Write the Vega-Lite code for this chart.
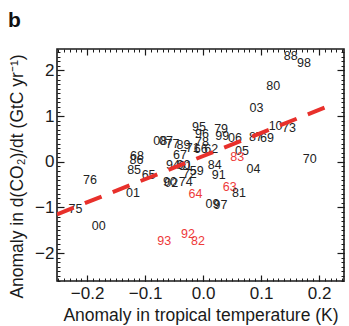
{
  "$schema": "https://vega.github.io/schema/vega-lite/v6.json",
  "autosize": "none",
  "width": 287,
  "height": 232,
  "padding": {"left": 57, "top": 49, "right": 5, "bottom": 45},
  "config": {"font": "Liberation Sans", "view": {"stroke": "#1a1a1a", "strokeWidth": 1.6}, "axis": {"grid": false, "domain": false, "tickColor": "#1a1a1a", "labelColor": "#1a1a1a", "titleColor": "#1a1a1a"}},
  "title": {"text": "b", "anchor": "start", "frame": "group", "dx": -49, "offset": 0, "fontSize": 21, "fontWeight": "bold", "font": "Liberation Sans", "baseline": "alphabetic", "color": "#111"},
  "datasets": {
    "pts": [
      {"yr": "88", "x": 0.151, "y": 2.31, "g": "k"},
      {"yr": "98", "x": 0.174, "y": 2.17, "g": "k"},
      {"yr": "80", "x": 0.121, "y": 1.66, "g": "k"},
      {"yr": "03", "x": 0.092, "y": 1.17, "g": "k"},
      {"yr": "10", "x": 0.125, "y": 0.78, "g": "k"},
      {"yr": "73", "x": 0.148, "y": 0.74, "g": "k"},
      {"yr": "87", "x": 0.091, "y": 0.54, "g": "k"},
      {"yr": "69", "x": 0.110, "y": 0.52, "g": "k"},
      {"yr": "70", "x": 0.184, "y": 0.07, "g": "k"},
      {"yr": "95", "x": -0.007, "y": 0.77, "g": "k"},
      {"yr": "96", "x": -0.002, "y": 0.61, "g": "k"},
      {"yr": "78", "x": -0.002, "y": 0.44, "g": "k"},
      {"yr": "79", "x": 0.031, "y": 0.71, "g": "k"},
      {"yr": "99", "x": 0.033, "y": 0.56, "g": "k"},
      {"yr": "06", "x": 0.055, "y": 0.53, "g": "k"},
      {"yr": "05", "x": 0.067, "y": 0.24, "g": "k"},
      {"yr": "83", "x": 0.059, "y": 0.11, "g": "r"},
      {"yr": "62", "x": 0.014, "y": 0.29, "g": "k"},
      {"yr": "66", "x": -0.004, "y": 0.29, "g": "k"},
      {"yr": "71", "x": -0.018, "y": 0.31, "g": "k"},
      {"yr": "89", "x": -0.034, "y": 0.36, "g": "k"},
      {"yr": "08", "x": -0.074, "y": 0.46, "g": "k"},
      {"yr": "07", "x": -0.064, "y": 0.46, "g": "k"},
      {"yr": "77", "x": -0.053, "y": 0.40, "g": "k"},
      {"yr": "67", "x": -0.040, "y": 0.15, "g": "k"},
      {"yr": "68", "x": -0.114, "y": 0.12, "g": "k"},
      {"yr": "86", "x": -0.115, "y": 0.04, "g": "k"},
      {"yr": "85", "x": -0.119, "y": -0.17, "g": "k"},
      {"yr": "65", "x": -0.094, "y": -0.29, "g": "k"},
      {"yr": "94", "x": -0.052, "y": -0.07, "g": "k"},
      {"yr": "60", "x": -0.034, "y": -0.08, "g": "k"},
      {"yr": "61", "x": -0.031, "y": -0.10, "g": "k"},
      {"yr": "59", "x": -0.011, "y": -0.21, "g": "k"},
      {"yr": "72", "x": -0.023, "y": -0.27, "g": "k"},
      {"yr": "90", "x": -0.057, "y": -0.45, "g": "k"},
      {"yr": "02", "x": -0.055, "y": -0.47, "g": "k"},
      {"yr": "74", "x": -0.030, "y": -0.44, "g": "k"},
      {"yr": "84", "x": 0.020, "y": -0.06, "g": "k"},
      {"yr": "91", "x": 0.027, "y": -0.29, "g": "k"},
      {"yr": "04", "x": 0.087, "y": -0.16, "g": "k"},
      {"yr": "63", "x": 0.046, "y": -0.55, "g": "r"},
      {"yr": "81", "x": 0.062, "y": -0.68, "g": "k"},
      {"yr": "64", "x": -0.013, "y": -0.71, "g": "r"},
      {"yr": "09", "x": 0.016, "y": -0.93, "g": "k"},
      {"yr": "97", "x": 0.030, "y": -0.94, "g": "k"},
      {"yr": "93", "x": -0.067, "y": -1.73, "g": "r"},
      {"yr": "92", "x": -0.026, "y": -1.57, "g": "r"},
      {"yr": "82", "x": -0.009, "y": -1.73, "g": "r"},
      {"yr": "75", "x": -0.220, "y": -1.04, "g": "k"},
      {"yr": "76", "x": -0.195, "y": -0.40, "g": "k"},
      {"yr": "00", "x": -0.180, "y": -1.41, "g": "k"},
      {"yr": "01", "x": -0.121, "y": -0.69, "g": "k"}
    ],
    "fit": [
      {"x": -0.252, "y": -1.15},
      {"x": 0.224, "y": 1.26}
    ]
  },
  "resolve": {"axis": {"x": "independent", "y": "independent"}},
  "layer": [
    {
      "data": {"name": "pts"},
      "mark": {"type": "text", "font": "Liberation Sans", "fontSize": 12.5, "align": "center", "baseline": "middle"},
      "encoding": {
        "x": {"field": "x", "type": "quantitative", "scale": {"domain": [-0.252, 0.243], "nice": false, "zero": false},
          "axis": {"orient": "bottom", "values": [-0.2, -0.1, 0, 0.1, 0.2], "format": ".1f", "tickSize": -6, "tickWidth": 1.2, "labelPadding": 10, "labelFontSize": 17, "labelFont": "Liberation Sans", "title": "Anomaly in tropical temperature (K)", "titleFontSize": 17.5, "titleFontWeight": "normal", "titleFont": "Liberation Sans", "titlePadding": 5}},
        "y": {"field": "y", "type": "quantitative", "scale": {"domain": [-2.61, 2.47], "nice": false, "zero": false},
          "axis": {"orient": "left", "values": [-2, -1, 0, 1, 2], "format": "d", "tickSize": -7, "tickWidth": 1.2, "labelPadding": 10, "labelFontSize": 17, "labelFont": "Liberation Sans", "title": "Anomaly in d(CO₂)/dt (GtC yr⁻¹)", "titleFontSize": 17.5, "titleFontWeight": "normal", "titleFont": "Liberation Sans", "titlePadding": 8, "titleY": 127}},
        "text": {"field": "yr"},
        "color": {"field": "g", "type": "nominal", "scale": {"domain": ["k", "r"], "range": ["#222222", "#ee3a3a"]}, "legend": null}
      }
    },
    {
      "data": {"name": "fit"},
      "mark": {"type": "line", "color": "#e8302b", "strokeWidth": 4, "strokeDash": [18, 12], "strokeCap": "butt", "clip": true},
      "encoding": {
        "x": {"field": "x", "type": "quantitative", "scale": {"domain": [-0.252, 0.243], "nice": false, "zero": false},
          "axis": {"orient": "bottom", "values": [-0.25, -0.24, -0.23, -0.22, -0.21, -0.2, -0.19, -0.18, -0.17, -0.16, -0.15, -0.14, -0.13, -0.12, -0.11, -0.1, -0.09, -0.08, -0.07, -0.06, -0.05, -0.04, -0.03, -0.02, -0.01, 0, 0.01, 0.02, 0.03, 0.04, 0.05, 0.06, 0.07, 0.08, 0.09, 0.1, 0.11, 0.12, 0.13, 0.14, 0.15, 0.16, 0.17, 0.18, 0.19, 0.2, 0.21, 0.22, 0.23, 0.24], "labels": false, "tickSize": -3, "tickWidth": 1, "title": null}},
        "y": {"field": "y", "type": "quantitative", "scale": {"domain": [-2.61, 2.47], "nice": false, "zero": false},
          "axis": {"orient": "left", "values": [-2.6, -2.5, -2.4, -2.3, -2.2, -2.1, -2, -1.9, -1.8, -1.7, -1.6, -1.5, -1.4, -1.3, -1.2, -1.1, -1, -0.9, -0.8, -0.7, -0.6, -0.5, -0.4, -0.3, -0.2, -0.1, 0, 0.1, 0.2, 0.3, 0.4, 0.5, 0.6, 0.7, 0.8, 0.9, 1, 1.1, 1.2, 1.3, 1.4, 1.5, 1.6, 1.7, 1.8, 1.9, 2, 2.1, 2.2, 2.3, 2.4], "labels": false, "tickSize": -3, "tickWidth": 1, "title": null}}
      }
    },
    {
      "data": {"name": "fit"},
      "mark": {"type": "line", "opacity": 0},
      "encoding": {
        "x": {"field": "x", "type": "quantitative", "scale": {"domain": [-0.252, 0.243], "nice": false, "zero": false},
          "axis": {"orient": "top", "values": [-0.2, -0.1, 0, 0.1, 0.2], "labels": false, "tickSize": -6, "tickWidth": 1.2, "title": null}},
        "y": {"field": "y", "type": "quantitative", "scale": {"domain": [-2.61, 2.47], "nice": false, "zero": false},
          "axis": {"orient": "right", "values": [-2, -1, 0, 1, 2], "labels": false, "tickSize": -7, "tickWidth": 1.2, "title": null}}
      }
    },
    {
      "data": {"name": "fit"},
      "mark": {"type": "line", "opacity": 0},
      "encoding": {
        "x": {"field": "x", "type": "quantitative", "scale": {"domain": [-0.252, 0.243], "nice": false, "zero": false},
          "axis": {"orient": "top", "values": [-0.25, -0.24, -0.23, -0.22, -0.21, -0.2, -0.19, -0.18, -0.17, -0.16, -0.15, -0.14, -0.13, -0.12, -0.11, -0.1, -0.09, -0.08, -0.07, -0.06, -0.05, -0.04, -0.03, -0.02, -0.01, 0, 0.01, 0.02, 0.03, 0.04, 0.05, 0.06, 0.07, 0.08, 0.09, 0.1, 0.11, 0.12, 0.13, 0.14, 0.15, 0.16, 0.17, 0.18, 0.19, 0.2, 0.21, 0.22, 0.23, 0.24], "labels": false, "tickSize": -3, "tickWidth": 1, "title": null}},
        "y": {"field": "y", "type": "quantitative", "scale": {"domain": [-2.61, 2.47], "nice": false, "zero": false},
          "axis": {"orient": "right", "values": [-2.6, -2.5, -2.4, -2.3, -2.2, -2.1, -2, -1.9, -1.8, -1.7, -1.6, -1.5, -1.4, -1.3, -1.2, -1.1, -1, -0.9, -0.8, -0.7, -0.6, -0.5, -0.4, -0.3, -0.2, -0.1, 0, 0.1, 0.2, 0.3, 0.4, 0.5, 0.6, 0.7, 0.8, 0.9, 1, 1.1, 1.2, 1.3, 1.4, 1.5, 1.6, 1.7, 1.8, 1.9, 2, 2.1, 2.2, 2.3, 2.4], "labels": false, "tickSize": -3, "tickWidth": 1, "title": null}}
      }
    }
  ]
}
